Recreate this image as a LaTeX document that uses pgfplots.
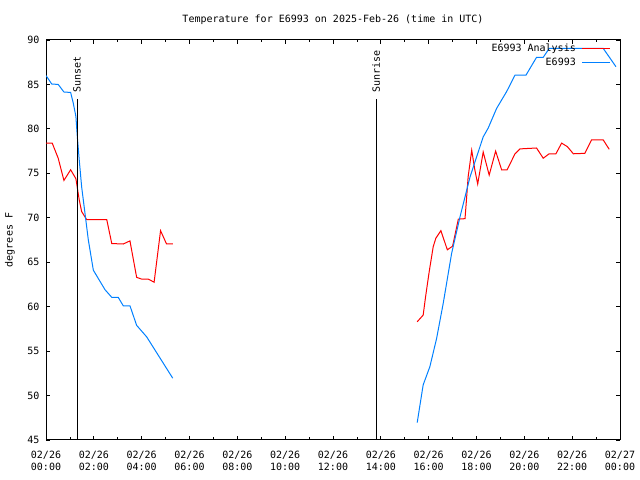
\documentclass[border=0pt]{standalone}
\usepackage{pgfplots}
\pgfplotsset{compat=1.18}
\usepackage{fontspec}
\newfontfamily\gfont{DejaVu Sans Mono}
\definecolor{gred}{RGB}{255,0,0}
\definecolor{gblue}{RGB}{0,128,255}
\newcommand{\gf}{\gfont\fontsize{10bp}{12bp}\selectfont}
\begin{document}
\begin{tikzpicture}
\begin{axis}[
  width=574bp, height=400bp, scale only axis,
  xmin=0, xmax=24, ymin=45, ymax=90,
  xtick={0,2,...,24}, minor xtick={1,3,...,23},
  xticklabels={{02/26\\00:00},{02/26\\02:00},{02/26\\04:00},{02/26\\06:00},{02/26\\08:00},{02/26\\10:00},{02/26\\12:00},{02/26\\14:00},{02/26\\16:00},{02/26\\18:00},{02/26\\20:00},{02/26\\22:00},{02/27\\00:00}},
  xticklabel style={align=center, font=\gf, yshift=-8bp},
  ytick={45,50,...,90},
  yticklabel style={font=\gf, xshift=-3bp},
  /pgf/number format/assume math mode=true,
  tick align=inside,
  major tick length=4bp, minor tick length=2.5bp,
  tick style={black, line width=0.8bp},
  axis line style={line width=1bp},
  title={Temperature for E6993 on 2025-Feb-26 (time in UTC)},
  title style={font=\gf, at={(0.5,1)}, anchor=south, yshift=6bp},
  ylabel={degrees F},
  every axis y label/.style={at={(rel axis cs:0,0.5)}, xshift=-36bp, rotate=90, anchor=center, font=\gf},
  unbounded coords=jump,
  legend style={draw=none, fill=none, at={(rel axis cs:1,1)}, anchor=north east, xshift=-9bp, yshift=-2bp, inner sep=0pt, row sep=0.5bp, font=\gf, legend cell align=right, /tikz/every odd column/.style={column sep=4bp}},
  legend plot pos=right,
  legend image code/.code={\draw[#1] (0bp,0bp) -- (28bp,0bp);},
]
\addplot[gred, line width=1bp] coordinates {
(0,78.4)(0.26,78.4)(0.51,76.7)(0.75,74.2)(1.03,75.4)(1.25,74.4)(1.39,72.0)(1.49,70.7)(1.70,69.8)(2.54,69.8)(2.75,67.1)(3.23,67.05)(3.51,67.4)(3.79,63.3)(4.0,63.1)(4.28,63.1)(4.52,62.75)(4.79,68.55)(5.04,67.05)(5.3,67.05)
(10,nan)
(15.52,58.3)(15.77,59.05)(15.87,61.1)(16.02,63.9)(16.19,66.75)(16.30,67.7)(16.51,68.55)(16.78,66.4)(17.0,66.8)(17.24,69.85)(17.52,69.9)(17.61,73.1)(17.65,74.6)(17.80,77.6)(17.93,75.4)(18.05,73.8)(18.28,77.4)(18.53,74.8)(18.80,77.5)(19.05,75.4)(19.28,75.4)(19.61,77.2)(19.82,77.75)(20.51,77.85)(20.79,76.7)(21.04,77.2)(21.32,77.2)(21.56,78.4)(21.80,78.0)(22.05,77.2)(22.53,77.25)(22.81,78.75)(23.30,78.75)(23.55,77.7)
};
\addlegendentry{E6993 Analysis}
\addplot[gblue, line width=1bp] coordinates {
(0,86.0)(0.24,85.05)(0.51,85.0)(0.75,84.15)(1.03,84.1)(1.14,82.9)(1.25,81.4)(1.31,79.1)(1.39,76.5)(1.49,73.5)(1.63,70.5)(1.77,67.5)(1.98,64.1)(2.47,61.9)(2.75,61.05)(3.02,61.05)(3.23,60.1)(3.51,60.1)(3.79,57.9)(4.21,56.6)(5.30,51.95)
(10,nan)
(15.52,46.95)(15.77,51.2)(16.05,53.25)(16.33,56.4)(16.61,60.4)(16.96,66.0)(17.31,70.1)(17.73,74.6)(18.28,79.1)(18.49,80.1)(18.84,82.3)(19.26,84.2)(19.61,86.05)(20.07,86.05)(20.51,88.05)(20.79,88.05)(21.04,89.05)(23.30,89.05)(23.83,87.0)
};
\addlegendentry{E6993}
\addplot[black, line width=1bp, forget plot] coordinates {(1.30,45)(1.30,83.35)};
\addplot[black, line width=1bp, forget plot] coordinates {(13.80,45)(13.80,83.35)};
\node[rotate=90, anchor=west, font=\gf, inner sep=0pt, xshift=1bp] at (axis cs:1.30,84.0) {Sunset};
\node[rotate=90, anchor=west, font=\gf, inner sep=0pt, xshift=1bp] at (axis cs:13.80,84.0) {Sunrise};
\end{axis}
\pgfresetboundingbox
\useasboundingbox (-46bp,-40bp) rectangle (594bp,440bp);
\end{tikzpicture}
\end{document}
